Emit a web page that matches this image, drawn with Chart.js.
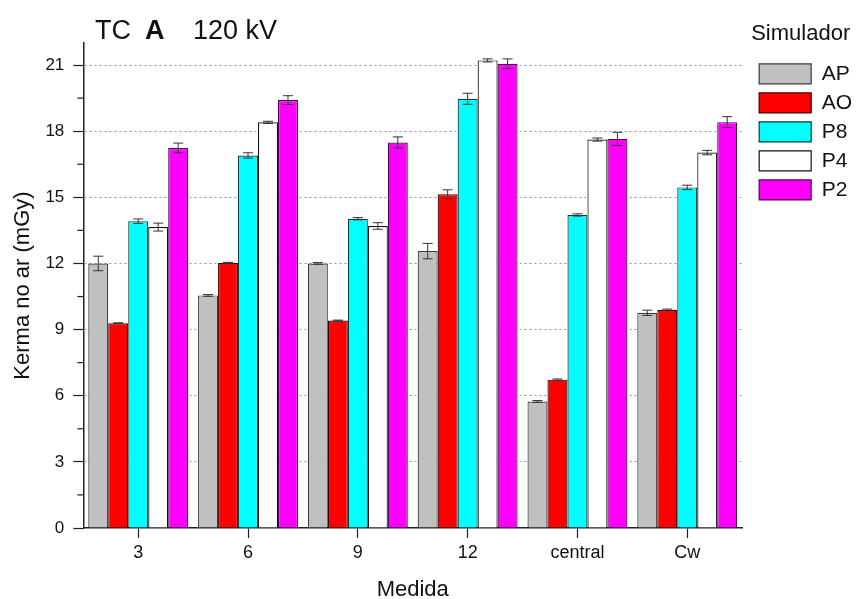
<!DOCTYPE html>
<html>
<head>
<meta charset="utf-8">
<script src="https://cdn.jsdelivr.net/npm/chart.js@4"></script>
<style>
  body { margin: 0; background: #fff; }
  #wrap { width: 856px; height: 599px; }
</style>
</head>
<body>
<div id="wrap"><canvas id="kermaChart"></canvas></div>
<script>
const categories = ['3', '6', '9', '12', 'central', 'Cw'];
const seriesNames = ['AP', 'AO', 'P8', 'P4', 'P2'];

const ap = [12.0, 10.55, 12.0, 12.56, 5.74, 9.76];
const ao = [9.29, 12.03, 9.41, 15.14, 6.73, 9.9];
const p8 = [13.92, 16.9, 14.03, 19.47, 14.2, 15.45];
const p4 = [13.65, 18.4, 13.7, 21.21, 17.62, 17.03];
const p2 = [17.24, 19.41, 17.49, 21.06, 17.65, 18.41];

const apErr = [0.33, 0.04, 0.04, 0.35, 0.04, 0.12];
const aoErr = [0.02, 0.02, 0.02, 0.2, 0.03, 0.03];
const p8Err = [0.1, 0.12, 0.05, 0.25, 0.05, 0.1];
const p4Err = [0.18, 0.05, 0.15, 0.07, 0.07, 0.1];
const p2Err = [0.22, 0.2, 0.25, 0.22, 0.3, 0.25];

const fillColors = ['#c0c0c0', '#ff0000', '#00ffff', '#ffffff', '#ff00ff'];
const edgeColors = ['#3a3a3a', '#3a0000', '#0d3a3a', '#111111', '#4a0a4a'];

const FONT = "'Liberation Sans', Arial, sans-serif";

// error bars drawn over every bar, positioned from the scales
const errorBars = {
   id: 'errorBars',
   afterDatasetsDraw(chart) {
      const ctx = chart.ctx;
      const y = chart.scales.y;
      ctx.save();
      ctx.strokeStyle = '#333';
      ctx.lineWidth = 1;
      chart.data.datasets.forEach((ds, i) => {
         const meta = chart.getDatasetMeta(i);
         meta.data.forEach((bar, j) => {
            const v = ds.data[j];
            const e = ds.errors[j];
            const top = y.getPixelForValue(v + e);
            const bot = y.getPixelForValue(v - e);
            ctx.beginPath();
            ctx.moveTo(bar.x, top);
            ctx.lineTo(bar.x, bot);
            ctx.moveTo(bar.x - 5, top);
            ctx.lineTo(bar.x + 5, top);
            ctx.moveTo(bar.x - 5, bot);
            ctx.lineTo(bar.x + 5, bot);
            ctx.stroke();
         });
      });
      ctx.restore();
   }
};

// minor ticks on the y axis and the title with the bold letter
const decorations = {
   id: 'decorations',
   afterLayout(chart) {
      const lg = chart.legend;
      lg.left += 9; lg.right += 9;
      lg.top -= 20; lg.bottom -= 20;
   },
   afterDraw(chart) {
      const ctx = chart.ctx;
      const y = chart.scales.y;
      const x0 = chart.chartArea.left;
      ctx.save();
      ctx.strokeStyle = '#222';
      ctx.lineWidth = 1.2;
      for (let v = 1.5; v < 22; v += 3) {
         const py = y.getPixelForValue(v);
         ctx.beginPath();
         ctx.moveTo(x0 - 6, py);
         ctx.lineTo(x0, py);
         ctx.stroke();
      }
      ctx.fillStyle = '#111';
      ctx.textBaseline = 'alphabetic';
      ctx.font = '27px ' + FONT;
      ctx.fillText('TC', 95, 39);
      ctx.fillText('120 kV', 193, 39);
      ctx.font = 'bold 27px ' + FONT;
      ctx.fillText('A', 145, 39);
      ctx.restore();
   }
};

const seriesData = [ap, ao, p8, p4, p2];
const seriesErr = [apErr, aoErr, p8Err, p4Err, p2Err];

new Chart(document.getElementById('kermaChart'), {
   type: 'bar',
   data: {
      labels: categories,
      datasets: seriesNames.map((name, i) => ({
         label: name,
         data: seriesData[i],
         errors: seriesErr[i],
         backgroundColor: fillColors[i],
         borderColor: edgeColors[i],
         borderWidth: 1.2,
         categoryPercentage: 0.91,
         barPercentage: 1.0,
      })),
   },
   options: {
      responsive: true,
      maintainAspectRatio: false,
      animation: false,
      layout: { padding: { top: 43, left: 6, right: 3, bottom: -4 } },
      plugins: {
         tooltip: { enabled: false },
         legend: {
            position: 'right',
            align: 'start',
            title: {
               display: true,
               text: 'Simulador',
               position: 'start',
               color: '#111',
               font: { family: FONT, size: 22 },
               padding: { top: 0, bottom: 6 },
            },
            labels: {
               boxWidth: 52,
               boxHeight: 20,
               padding: 8,
               color: '#111',
               font: { family: FONT, size: 21 },
            },
         },
      },
      scales: {
         x: {
            grid: {
               drawOnChartArea: false,
               offset: false,
               tickLength: 10,
               tickColor: '#222',
               tickWidth: 1.2,
            },
            border: { color: '#222', width: 1.5 },
            ticks: { color: '#111', padding: 4, font: { family: FONT, size: 18 } },
            title: {
               display: true,
               text: 'Medida',
               color: '#111',
               font: { family: FONT, size: 22 },
               padding: { top: 9, bottom: 0 },
            },
         },
         y: {
            min: 0,
            max: 22,
            grid: {
               color: c => (c.tick && c.tick.value === 0 ? 'transparent' : '#8a8aee'),
               lineWidth: 1,
               tickLength: 10,
               tickColor: '#222',
               tickWidth: 1.2,
            },
            border: { color: '#222', width: 1.5, dash: [2, 3] },
            ticks: {
               stepSize: 3,
               includeBounds: false,
               color: '#111',
               padding: 9,
               font: { family: FONT, size: 17 },
            },
            title: {
               display: true,
               text: 'Kerma no ar (mGy)',
               color: '#111',
               font: { family: FONT, size: 22 },
               padding: { top: 4, bottom: 0 },
            },
         },
      },
   },
   plugins: [errorBars, decorations],
});
</script>
</body>
</html>
